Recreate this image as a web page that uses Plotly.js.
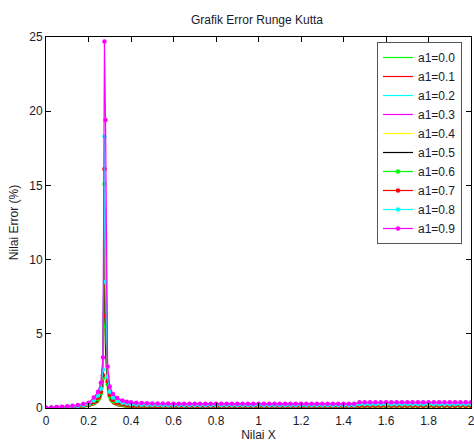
<!DOCTYPE html>
<html>
<head>
<meta charset="utf-8">
<script src="https://cdn.plot.ly/plotly-3.0.1.min.js"></script>
<style>
  html, body { margin: 0; padding: 0; background: #fff; }
  #chart { width: 474px; height: 447px; }
</style>
</head>
<body>
<div id="chart"></div>
<script>
// Shared x grid: finer around the spike near x = 0.275, 0.025 steps elsewhere
const X = [
  0, 0.025, 0.05, 0.075, 0.1, 0.125, 0.15, 0.175, 0.2, 0.225, 0.245, 0.258, 0.268, 0.275,
  0.28, 0.29, 0.3, 0.315, 0.335, 0.36, 0.38,
  0.4, 0.425, 0.45, 0.475, 0.5, 0.525, 0.55, 0.575, 0.6, 0.625, 0.65, 0.675, 0.7, 0.725,
  0.75, 0.775, 0.8, 0.825, 0.85, 0.875, 0.9, 0.925, 0.95, 0.975, 1.0, 1.025, 1.05, 1.075,
  1.1, 1.125, 1.15, 1.175, 1.2, 1.225, 1.25, 1.275, 1.3, 1.325, 1.35, 1.375, 1.4, 1.425,
  1.45, 1.475, 1.5, 1.525, 1.55, 1.575, 1.6, 1.625, 1.65, 1.675, 1.7, 1.725, 1.75, 1.775,
  1.8, 1.825, 1.85, 1.875, 1.9, 1.925, 1.95, 1.975, 2.0];

// Error (%) for each a1 value, same length as X
const a1_00 = [
  0, 0.005, 0.01, 0.02, 0.02, 0.03, 0.05, 0.07, 0.1, 0.2, 0.38, 0.65, 1.4, 10.4,
  4.5, 1.1, 0.5, 0.28, 0.15, 0.09, 0.06,
  0.05, 0.04, 0.03, 0.025,
  0.02, 0.02, 0.02, 0.02, 0.02, 0.02, 0.02,
  0.02, 0.02, 0.02, 0.02, 0.02, 0.02, 0.02,
  0.02, 0.02, 0.02, 0.02, 0.02, 0.02, 0.02,
  0.01, 0.01, 0.01, 0.01, 0.01, 0.01,
  0.04, 0.04, 0.04, 0.04, 0.04, 0.04, 0.04, 0.04, 0.04, 0.04, 0.04, 0.04,
  0.1, 0.1, 0.1, 0.1, 0.1, 0.1, 0.1, 0.1,
  0.07, 0.07, 0.07, 0.07,
  0.1, 0.1, 0.1, 0.1, 0.1, 0.1, 0.1, 0.1, 0.1, 0.1];
const a1_01 = [
  0, 0.005, 0.01, 0.02, 0.02, 0.03, 0.05, 0.07, 0.1, 0.22, 0.4, 0.7, 1.5, 12.5,
  5.0, 1.2, 0.55, 0.3, 0.16, 0.08, 0.05,
  0.04, 0.03, 0.02, 0.015,
  0.01, 0.01, 0.01, 0.01, 0.01, 0.01, 0.01,
  0.01, 0.01, 0.01, 0.01, 0.01, 0.01, 0.01,
  0.01, 0.01, 0.01, 0.01, 0.01, 0.01, 0.01,
  0.05, 0.05, 0.05, 0.05, 0.05, 0.05, 0.05, 0.05, 0.05,
  0.05, 0.05, 0.05, 0.05, 0.05, 0.05, 0.05, 0.05, 0.05,
  0.09, 0.09, 0.09, 0.09, 0.09, 0.09, 0.09, 0.09, 0.09, 0.09, 0.09,
  0.09, 0.09, 0.09, 0.09, 0.09, 0.09, 0.09, 0.09, 0.09, 0.09, 0.09];
const a1_02 = [
  0.01, 0.02, 0.04, 0.06, 0.08, 0.1, 0.13, 0.18, 0.24, 0.45, 0.8, 1.2, 2.4, 13.0,
  7.5, 1.9, 1.0, 0.65, 0.44, 0.3, 0.25,
  0.22, 0.2, 0.19, 0.18, 0.17, 0.17, 0.16, 0.16,
  0.15, 0.15, 0.15, 0.15, 0.15, 0.15, 0.15,
  0.15, 0.15, 0.15, 0.15, 0.15, 0.15, 0.15,
  0.15, 0.15, 0.15, 0.15, 0.15, 0.15, 0.15,
  0.15, 0.15, 0.15, 0.15, 0.15, 0.15, 0.15,
  0.15, 0.15, 0.15, 0.15, 0.15, 0.15, 0.15,
  0.21, 0.21, 0.21, 0.21, 0.21, 0.21, 0.21, 0.21, 0.21, 0.21, 0.21,
  0.21, 0.21, 0.21, 0.21, 0.21, 0.21, 0.21, 0.21, 0.21, 0.21, 0.21];
const a1_03 = [
  0.01, 0.03, 0.05, 0.07, 0.1, 0.13, 0.17, 0.23, 0.3, 0.6, 1.0, 1.5, 3.0, 14.0,
  12.5, 2.5, 1.3, 0.85, 0.6, 0.45, 0.37,
  0.32, 0.3, 0.28, 0.27, 0.26, 0.26, 0.25, 0.25,
  0.24, 0.24, 0.24, 0.24, 0.24, 0.24, 0.24,
  0.24, 0.24, 0.24, 0.24, 0.24, 0.24, 0.24,
  0.24, 0.24, 0.24, 0.24, 0.24, 0.24, 0.24,
  0.24, 0.24, 0.24, 0.24, 0.24, 0.24, 0.24,
  0.24, 0.24, 0.24, 0.24, 0.24, 0.24, 0.24,
  0.32, 0.32, 0.32, 0.32, 0.32, 0.32, 0.32, 0.32, 0.32, 0.32, 0.32,
  0.32, 0.32, 0.32, 0.32, 0.32, 0.32, 0.32, 0.32, 0.32, 0.32, 0.32];
const a1_04 = [
  0, 0.01, 0.02, 0.03, 0.04, 0.05, 0.07, 0.1, 0.14, 0.28, 0.48, 0.8, 1.7, 11.1,
  3.6, 1.3, 0.65, 0.4, 0.24, 0.15, 0.12,
  0.1, 0.09, 0.08, 0.07, 0.06, 0.06, 0.05, 0.05,
  0.04, 0.04, 0.04, 0.04, 0.04, 0.04, 0.04,
  0.04, 0.04, 0.04, 0.04, 0.04, 0.04, 0.04,
  0.04, 0.04, 0.04, 0.04, 0.04, 0.04, 0.04,
  0.04, 0.04, 0.04, 0.04, 0.04, 0.04, 0.04,
  0.04, 0.04, 0.04, 0.04, 0.04, 0.04, 0.04,
  0.09, 0.09, 0.09, 0.09, 0.09, 0.09, 0.09, 0.09, 0.09, 0.09, 0.09,
  0.09, 0.09, 0.09, 0.09, 0.09, 0.09, 0.09, 0.09, 0.09, 0.09, 0.09];
const a1_05 = [
  0, 0.01, 0.02, 0.03, 0.04, 0.06, 0.08, 0.11, 0.15, 0.3, 0.5, 0.85, 1.8, 11.5,
  4.0, 1.4, 0.7, 0.42, 0.26, 0.17, 0.14,
  0.12, 0.1, 0.09, 0.08, 0.07, 0.07, 0.06, 0.06,
  0.05, 0.05, 0.05, 0.05, 0.05, 0.05, 0.05,
  0.05, 0.05, 0.05, 0.05, 0.05, 0.05, 0.05,
  0.05, 0.05, 0.05, 0.05, 0.05, 0.05, 0.05,
  0.05, 0.05, 0.05, 0.05, 0.05, 0.05, 0.05,
  0.05, 0.05, 0.05, 0.05, 0.05, 0.05, 0.05,
  0.1, 0.1, 0.1, 0.1, 0.1, 0.1, 0.1, 0.1, 0.1, 0.1, 0.1,
  0.1, 0.1, 0.1, 0.1, 0.1, 0.1, 0.1, 0.1, 0.1, 0.1, 0.1];
const a1_06 = [
  0.01, 0.02, 0.03, 0.04, 0.05, 0.07, 0.1, 0.13, 0.18, 0.35, 0.6, 1.0, 2.0, 15.1,
  5.5, 1.6, 0.8, 0.48, 0.3, 0.2, 0.17,
  0.15, 0.13, 0.12, 0.11, 0.1, 0.1, 0.09, 0.09,
  0.08, 0.08, 0.08, 0.08, 0.08, 0.08, 0.08,
  0.08, 0.08, 0.08, 0.08, 0.08, 0.08, 0.08,
  0.08, 0.08, 0.08, 0.08, 0.08, 0.08, 0.08,
  0.08, 0.08, 0.08, 0.08, 0.08, 0.08, 0.08,
  0.08, 0.08, 0.08, 0.08, 0.08, 0.08, 0.08,
  0.12, 0.12, 0.12, 0.12, 0.12, 0.12, 0.12, 0.12, 0.12, 0.12, 0.12,
  0.12, 0.12, 0.12, 0.12, 0.12, 0.12, 0.12, 0.12, 0.12, 0.12, 0.12];
const a1_07 = [
  0.01, 0.02, 0.03, 0.04, 0.06, 0.08, 0.11, 0.15, 0.2, 0.4, 0.7, 1.1, 2.2, 16.1,
  6.2, 1.8, 0.9, 0.55, 0.36, 0.26, 0.21,
  0.18, 0.16, 0.15, 0.14, 0.13, 0.13, 0.12, 0.12,
  0.11, 0.11, 0.11, 0.11, 0.11, 0.11, 0.11,
  0.11, 0.11, 0.11, 0.11, 0.11, 0.11, 0.11,
  0.11, 0.11, 0.11, 0.11, 0.11, 0.11, 0.11,
  0.11, 0.11, 0.11, 0.11, 0.11, 0.11, 0.11,
  0.11, 0.11, 0.11, 0.11, 0.11, 0.11, 0.11,
  0.15, 0.15, 0.15, 0.15, 0.15, 0.15, 0.15, 0.15, 0.15, 0.15, 0.15,
  0.15, 0.15, 0.15, 0.15, 0.15, 0.15, 0.15, 0.15, 0.15, 0.15, 0.15];
const a1_08 = [
  0.01, 0.02, 0.04, 0.06, 0.08, 0.11, 0.14, 0.19, 0.26, 0.5, 0.85, 1.3, 2.6, 18.3,
  8.5, 2.1, 1.1, 0.7, 0.48, 0.36, 0.3,
  0.26, 0.24, 0.22, 0.21, 0.2, 0.2, 0.19, 0.19,
  0.18, 0.18, 0.18, 0.18, 0.18, 0.18, 0.18,
  0.18, 0.18, 0.18, 0.18, 0.18, 0.18, 0.18,
  0.18, 0.18, 0.18, 0.18, 0.18, 0.18, 0.18,
  0.18, 0.18, 0.18, 0.18, 0.18, 0.18, 0.18,
  0.18, 0.18, 0.18, 0.18, 0.18, 0.18, 0.18,
  0.25, 0.25, 0.25, 0.25, 0.25, 0.25, 0.25, 0.25, 0.25, 0.25, 0.25,
  0.25, 0.25, 0.25, 0.25, 0.25, 0.25, 0.25, 0.25, 0.25, 0.25, 0.25];
const a1_09 = [
  0.02, 0.04, 0.06, 0.09, 0.12, 0.15, 0.2, 0.27, 0.36, 0.7, 1.1, 1.7, 3.4, 24.7,
  19.4, 2.8, 1.45, 0.95, 0.67, 0.5, 0.42,
  0.38, 0.35, 0.33, 0.32, 0.31, 0.305, 0.3, 0.3,
  0.29, 0.29, 0.29, 0.29, 0.29, 0.29, 0.29,
  0.29, 0.29, 0.29, 0.29, 0.29, 0.29, 0.29,
  0.29, 0.29, 0.29, 0.29, 0.29, 0.29, 0.29,
  0.29, 0.29, 0.29, 0.29, 0.29, 0.29, 0.29,
  0.29, 0.29, 0.29, 0.29, 0.29, 0.29, 0.29,
  0.38, 0.38, 0.38, 0.38, 0.38, 0.38, 0.38, 0.38, 0.38, 0.38, 0.38,
  0.38, 0.38, 0.38, 0.38, 0.38, 0.38, 0.38, 0.38, 0.38, 0.38, 0.38];

const seriesNames = ['a1=0.0', 'a1=0.1', 'a1=0.2', 'a1=0.3', 'a1=0.4',
                     'a1=0.5', 'a1=0.6', 'a1=0.7', 'a1=0.8', 'a1=0.9'];
const seriesValues = [a1_00, a1_01, a1_02, a1_03, a1_04, a1_05, a1_06, a1_07, a1_08, a1_09];
const seriesColors = ['#00ff00', '#ff0000', '#00ffff', '#ff00ff', '#ffff00',
                      '#000000', '#00ff00', '#ff0000', '#00ffff', '#ff00ff'];

const xTicks = [0, 0.2, 0.4, 0.6, 0.8, 1, 1.2, 1.4, 1.6, 1.8, 2];
const xTickText = ['0', '0.2', '0.4', '0.6', '0.8', '1', '1.2', '1.4', '1.6', '1.8', '2'];
const yTicks = [0, 5, 10, 15, 20, 25];

const FONT = 'Arial, "Liberation Sans", sans-serif';
const TEXT = '#1a1a2a';

// the last four series are drawn with dot markers on the line
const traces = seriesNames.map((name, i) => ({
  type: 'scatter',
  x: X,
  y: seriesValues[i],
  name: name,
  mode: i >= 6 ? 'lines+markers' : 'lines',
  line: { color: seriesColors[i], width: 1.2 },
  marker: { color: seriesColors[i], size: 4.5, symbol: 'circle' }
}));

const axisCommon = {
  showline: true,
  linecolor: '#000',
  linewidth: 1,
  mirror: 'ticks',
  ticks: 'inside',
  ticklen: 5,
  tickcolor: '#000',
  showgrid: false,
  zeroline: false,
  tickfont: { family: FONT, size: 12, color: TEXT }
};

const layout = {
  width: 474,
  height: 447,
  margin: { l: 46, r: 3, t: 37, b: 39 },
  paper_bgcolor: '#fff',
  plot_bgcolor: '#fff',
  font: { family: FONT, size: 12, color: TEXT },
  title: {
    text: 'Grafik Error Runge Kutta',
    font: { family: FONT, size: 12, color: TEXT },
    x: 257 / 474, xref: 'container', xanchor: 'center',
    y: 1 - 20 / 447, yref: 'container', yanchor: 'middle'
  },
  xaxis: Object.assign({}, axisCommon, {
    range: [0, 2],
    tickvals: xTicks,
    ticktext: xTickText,
    ticklabeloverflow: 'allow',
    ticklabelstandoff: 2,
    title: { text: 'Nilai X', font: { family: FONT, size: 12, color: TEXT }, standoff: 3 }
  }),
  yaxis: Object.assign({}, axisCommon, {
    range: [0, 25],
    tickvals: yTicks,
    title: { text: 'Nilai Error (%)', font: { family: FONT, size: 12, color: TEXT }, standoff: 8 }
  }),
  legend: {
    x: (462 - 46) / 425, xanchor: 'right',
    y: (408 - 42) / 371, yanchor: 'top',
    bgcolor: '#fff',
    bordercolor: '#555',
    borderwidth: 1,
    font: { family: FONT, size: 12, color: TEXT },
    tracegroupgap: 0
  },
  showlegend: true
};

Plotly.newPlot('chart', traces, layout, { displayModeBar: false, staticPlot: true });
</script>
</body>
</html>
